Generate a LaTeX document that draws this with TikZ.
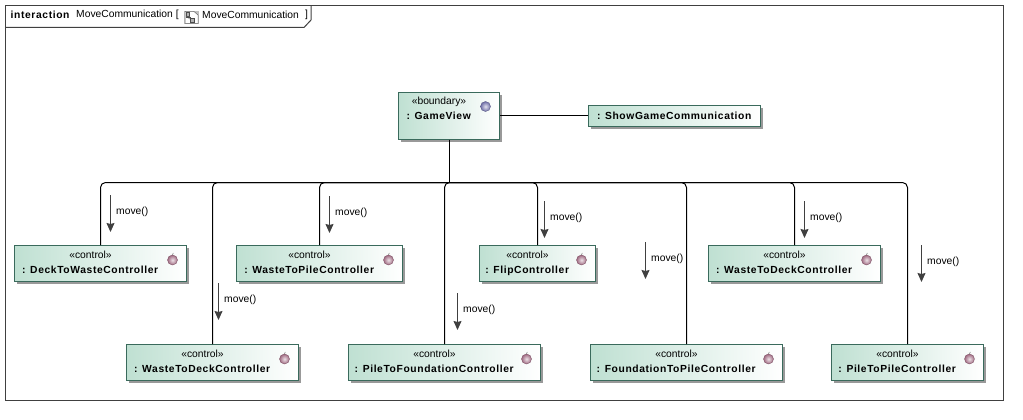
\documentclass[tikz,border=0pt]{standalone}
\usepackage{fontspec}
\setmainfont[BoldFeatures={LetterSpace=6}]{Liberation Sans}
\usepackage{tikz}
\usetikzlibrary{positioning, arrows.meta, shadows}

\definecolor{boxline}{HTML}{3A6A5C}
\definecolor{boxfill}{HTML}{BFE0D2}
\definecolor{frameline}{HTML}{404040}
\definecolor{ctrlball}{HTML}{A06A82}
\definecolor{viewball}{HTML}{6F6FA8}

\newcommand{\lifeline}[2]{\begin{tabular}{@{}c@{}}\guillemotleft #1\guillemotright\\[3pt]\textbf{: #2}\end{tabular}\kern20pt}

\begin{document}
\begin{tikzpicture}
            [x=1pt, y=-1pt, font=\fontsize{10.3}{12}\selectfont,
             umlbox/.style={draw=boxline, line width=1pt, left color=boxfill, right color=white,
                            inner xsep=0pt, inner ysep=0pt, minimum height=36pt,
                            drop shadow={shadow xshift=2.5pt, shadow yshift=-2.5pt, fill=black, opacity=0.4}},
             ctrl/.style={circle, inner color=ctrlball!20!white, outer color=ctrlball, draw=ctrlball!80!black, line width=0.4pt, inner sep=0pt, minimum size=10pt},
             view/.style={circle, inner color=viewball!20!white, outer color=viewball, draw=viewball!80!black, line width=0.4pt, inner sep=0pt, minimum size=10pt},
             link/.style={draw=black, line width=1pt, rounded corners=5pt},
             msg/.style={draw=frameline, line width=1pt, -{Stealth[length=9pt, width=8pt, inset=1pt]}},
             msglabel/.style={inner sep=0pt, anchor=west}]
            \useasboundingbox (0,0) rectangle (1023,420);

            % frame and its title
            \draw[frameline, line width=1pt] (5.5,5.5) rectangle (1003.5,400.5);
            \draw[frameline, line width=1pt] (5.5,27.5) -- (304,27.5) -- (311,20) -- (311,5.5);
            \node[inner sep=0pt, anchor=west] (kind) at (10.5,15) {\textbf{interaction}};
            \node[inner sep=0pt, anchor=west] (title) at (76,15) {MoveCommunication [};
            \node[inner sep=0pt, anchor=west] (ref) at (202,15) {MoveCommunication};
            \node[inner sep=0pt, anchor=west] (close) at (305,15) {]};
            \fill[black!25] (183.5,11) rectangle (199,24);
            \draw[black!60, fill=white, line width=0.5pt] (185,11.5) -- (194,11.5) -- (198,15) -- (198,23.5) -- (185,23.5) -- cycle;
            \draw[black!70, fill=black!30, line width=0.5pt] (186,12.5) rectangle (189.5,16);
            \draw[black!70, fill=black!30, line width=0.5pt] (186,17) -- (190,17) -- (190,19.5);
            \draw[black!70, fill=black!30, line width=0.5pt] (190,18) rectangle (194,22);

            % lifelines
            \node[umlbox, minimum width=101pt, minimum height=47pt] (gameview) at (449,115.5) {\raisebox{4pt}{\lifeline{boundary}{GameView}}\rule[-19pt]{0pt}{1pt}};
            \node[umlbox, minimum width=172pt, minimum height=21pt] (showgame) at (674.5,115.5) {\textbf{: ShowGameCommunication}};
            \node[umlbox, minimum width=172pt] (decktowaste) at (100.5,263.5) {\lifeline{control}{DeckToWasteController}};
            \node[umlbox, minimum width=172pt] (wastetodeck) at (212.5,362.5) {\lifeline{control}{WasteToDeckController}};
            \node[umlbox, minimum width=166pt] (wastetopile) at (319.5,263.5) {\lifeline{control}{WasteToPileController}};
            \node[umlbox, minimum width=192pt] (piletofound) at (444.5,362.5) {\lifeline{control}{PileToFoundationController}};
            \node[umlbox, minimum width=116pt] (flip) at (537.5,263.5) {\lifeline{control}{FlipController}};
            \node[umlbox, minimum width=192pt] (foundtopile) at (686.5,362.5) {\lifeline{control}{FoundationToPileController}};
            \node[umlbox, minimum width=172pt] (wastetodeckb) at (794.5,263.5) {\lifeline{control}{WasteToDeckController}};
            \node[umlbox, minimum width=152pt] (piletopile) at (907.5,362.5) {\lifeline{control}{PileToPileController}};

            \node[view] (gameviewball) at ([xshift=-14.5pt, yshift=-15pt]gameview.north east) {};
            \foreach \lifebox in {decktowaste, wastetodeck, wastetopile, piletofound, flip, foundtopile, wastetodeckb, piletopile} {
                \node[ctrl] (\lifebox ball) at ([xshift=-14.5pt, yshift=-15pt]\lifebox.north east) {};
                \draw[black!55, line width=0.5pt] (\lifebox ball.north) -- ++(0.8,-1.8);
            }

            % connectors
            \coordinate (bus) at (449.5,182.5);
            \draw[link] (gameview) -- (showgame);
            \draw[link] (bus |- gameview.south) -- (bus);
            \foreach \lifebox in {decktowaste, wastetodeck, wastetopile, piletofound, flip, foundtopile, wastetodeckb, piletopile}
                \draw[link] (bus) -| (\lifebox.north);

            % messages
            \foreach \id/\x/\y in {a/110/195, b/218/283, c/329/196, d/457/293, e/544/201, f/645/242, g/804/201, h/921/245} {
                \coordinate (\id from) at (\x.5,\y);
                \coordinate (\id to) at (\x.5,\y+37);
                \draw[msg] (\id from) -- (\id to);
                \node[msglabel] (\id label) at (\x+6,\y+16.5) {move()};
            }
        \end{tikzpicture}
\end{document}
